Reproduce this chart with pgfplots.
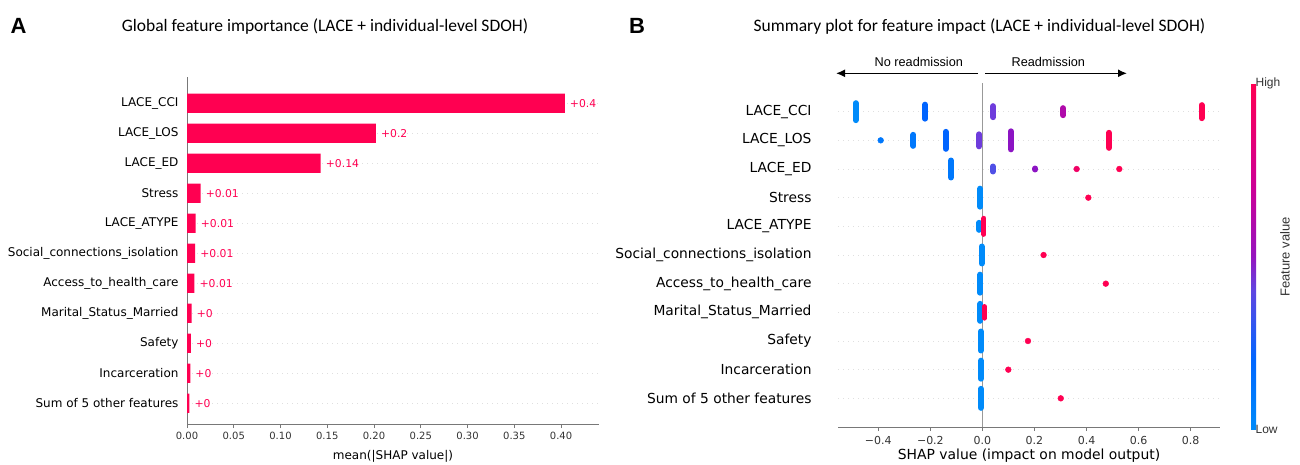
\documentclass[border=0pt]{standalone}
\usepackage{fontspec}
\setmainfont{DejaVu Sans}
\newfontfamily\libsans{Liberation Sans}
\newfontfamily\carlito{Carlito}
\usepackage{pgfplots}
\usepackage{pgfplotstable}
\pgfplotsset{compat=1.18}
\usetikzlibrary{arrows.meta}

\definecolor{shapred}{RGB}{255,0,81}
\definecolor{cA}{RGB}{0,139,250}
\definecolor{cA2}{RGB}{0,120,252}
\definecolor{cB}{RGB}{0,100,255}
\definecolor{cF}{RGB}{80,80,230}
\definecolor{cC}{RGB}{110,60,220}
\definecolor{cE}{RGB}{140,20,195}
\definecolor{cD}{RGB}{175,10,170}
\definecolor{cR2}{RGB}{240,0,100}
\definecolor{cR}{RGB}{255,0,82}
\definecolor{spine}{RGB}{120,120,120}
\definecolor{ticktext}{RGB}{51,51,51}

\pgfplotstableread{
y x lab
10 0.404 +0.4
9 0.202 +0.2
8 0.143 +0.14
7 0.0145 +0.01
6 0.0093 +0.01
5 0.0087 +0.01
4 0.0080 +0.01
3 0.0049 +0
2 0.0042 +0
1 0.0035 +0
0 0.0025 +0
}\barsA

\pgfplotsset{
  blob/.style={line width=6pt, line cap=round, mark=none, forget plot},
  dot/.style={only marks, mark=*, mark size=2.9pt, forget plot},
}

\begin{document}
\begin{tikzpicture}
\path[use as bounding box] (0pt,0pt) rectangle (1300pt,464pt);

% ---------------- Panel A ----------------
\begin{axis}[
  at={(187pt,40pt)}, anchor=south west, scale only axis,
  width=412pt, height=347.3pt,
  xmin=0, xmax=0.4406, ymin=-0.69, ymax=10.887,
  axis x line*=bottom, axis y line*=left,
  axis line style={-, spine, line width=0.8pt},
  xtick={0,0.05,0.1,0.15,0.2,0.25,0.3,0.35,0.4},
  xticklabels={0.00,0.05,0.10,0.15,0.20,0.25,0.30,0.35,0.40},
  ytick={0,1,2,3,4,5,6,7,8,9,10},
  yticklabels={Sum of 5 other features,Incarceration,Safety,Marital\_Status\_Married,Access\_to\_health\_care,Social\_connections\_isolation,LACE\_ATYPE,Stress,LACE\_ED,LACE\_LOS,LACE\_CCI},
  tick align=outside, major tick length=4pt,
  xtick style={spine, line width=0.8pt},
  ytick style={draw=none},
  ymajorgrids, major grid style={gray!25, line width=0.5pt, dash pattern=on 1pt off 4pt},
  xticklabel style={font=\fontsize{10}{12}\selectfont, text=ticktext, yshift=-1pt},
  yticklabel style={font=\fontsize{12}{14}\selectfont, text=black, xshift=-1pt},
  xlabel={mean(|SHAP value|)},
  xlabel style={font=\fontsize{12}{14}\selectfont, text=black, yshift=-3pt},
]
\addplot[xbar, bar width=19.3pt, fill=shapred, draw=none,
  point meta=explicit symbolic,
  nodes near coords,
  nodes near coords style={font=\fontsize{10.8}{12}\selectfont, text=shapred, anchor=west, inner sep=0pt, xshift=5pt}]
  table[x=x, y=y, meta=lab]{\barsA};
\end{axis}

% ---------------- Panel B ----------------
\pgfplotsset{colormap={shap}{rgb255(0pt)=(0,139,250); rgb255(20pt)=(0,102,255); rgb255(40pt)=(95,70,225); rgb255(50pt)=(150,20,190); rgb255(70pt)=(205,0,150); rgb255(100pt)=(255,0,82)}}
\begin{axis}[
  at={(838pt,37pt)}, anchor=south west, scale only axis,
  width=382pt, height=344pt,
  xmin=-0.555, xmax=0.913, ymin=-1, ymax=11,
  axis x line*=bottom, axis y line*=left,
  x axis line style={-, spine, line width=1pt},
  y axis line style={draw=none},
  xtick={-0.4,-0.2,0,0.2,0.4,0.6,0.8},
  xticklabels={−0.4,−0.2,0.0,0.2,0.4,0.6,0.8},
  ytick={0,1,2,3,4,5,6,7,8,9,10},
  yticklabels={Sum of 5 other features,Incarceration,Safety,Marital\_Status\_Married,Access\_to\_health\_care,Social\_connections\_isolation,LACE\_ATYPE,Stress,LACE\_ED,LACE\_LOS,LACE\_CCI},
  tick align=outside, major tick length=4pt,
  xtick style={spine, line width=0.8pt},
  ytick style={draw=none},
  ymajorgrids, major grid style={gray!25, line width=0.5pt, dash pattern=on 1pt off 4pt},
  xticklabel style={font=\fontsize{11}{13}\selectfont, text=ticktext, yshift=-2pt},
  yticklabel style={font=\fontsize{13.8}{16}\selectfont, text=black, xshift=-19pt},
  xlabel={SHAP value (impact on model output)},
  xlabel style={font=\fontsize{13.9}{16}\selectfont, text=black, yshift=2.5pt},
  colormap name=shap, point meta min=0, point meta max=1,
  colorbar,
  colorbar style={scale only axis, at={(parent axis.north east)}, anchor=north west, xshift=22.5pt,
    width=5pt, height=346pt, ytick={0,1}, yticklabels={Low,High}, yticklabel pos=right,
    yticklabel style={font=\libsans\fontsize{12}{14}\selectfont, text=ticktext, anchor=west, xshift=-4pt},
    major tick length=0pt, axis line style={draw=none}, ytick style={draw=none}},
]
\addplot[color={rgb,255:red,153;green,153;blue,153}, line width=1.2pt, forget plot] coordinates {(0,-1) (0,11)};
% LACE_CCI (10)
\addplot[blob, cA] coordinates {(-0.487,9.704) (-0.487,10.296)};
\addplot[blob, cB] coordinates {(-0.2205,9.756) (-0.2205,10.244)};
\addplot[blob, cC] coordinates {(0.041,9.808) (0.041,10.192)};
\addplot[blob, cD] coordinates {(0.310,9.878) (0.310,10.122)};
\addplot[blob, cR] coordinates {(0.842,9.773) (0.842,10.227)};
% LACE_LOS (9)
\addplot[dot, cA2] coordinates {(-0.391,9)};
\addplot[blob, cA2] coordinates {(-0.265,8.808) (-0.265,9.192)};
\addplot[blob, cB] coordinates {(-0.141,8.704) (-0.141,9.296)};
\addplot[blob, cC] coordinates {(-0.013,8.791) (-0.013,9.209)};
\addplot[blob, cE] coordinates {(0.109,8.686) (0.109,9.314)};
\addplot[blob, cR] coordinates {(0.486,8.738) (0.486,9.262)};
% LACE_ED (8)
\addplot[blob, cA2] coordinates {(-0.121,7.704) (-0.121,8.296)};
\addplot[blob, cF] coordinates {(0.040,7.913) (0.040,8.087)};
\addplot[blob, cE] coordinates {(0.203,7.983) (0.203,8.017)};
\addplot[dot, cR2] coordinates {(0.362,8)};
\addplot[dot, cR] coordinates {(0.526,8)};
% Stress (7)
\addplot[blob, cA] coordinates {(-0.009,6.686) (-0.009,7.314)};
\addplot[dot, cR] coordinates {(0.407,7)};
% LACE_ATYPE (6)
\addplot[blob, cA] coordinates {(-0.013,5.878) (-0.013,6.122)};
\addplot[blob, cR, line width=5pt] coordinates {(0.006,5.72) (0.006,6.28)};
% Social (5)
\addplot[blob, cA] coordinates {(-0.003,4.704) (-0.003,5.296)};
\addplot[dot, cR] coordinates {(0.235,5)};
% Access (4)
\addplot[blob, cA] coordinates {(-0.009,3.686) (-0.009,4.314)};
\addplot[dot, cR] coordinates {(0.474,4)};
% Marital (3)
\addplot[blob, cA] coordinates {(-0.008,2.704) (-0.008,3.296)};
\addplot[blob, cR, line width=4.5pt] coordinates {(0.007,2.79) (0.007,3.21)};
% Safety (2)
\addplot[blob, cA] coordinates {(-0.006,1.669) (-0.006,2.331)};
\addplot[dot, cR] coordinates {(0.175,2)};
% Incarceration (1)
\addplot[blob, cA] coordinates {(-0.006,0.686) (-0.006,1.314)};
\addplot[dot, cR] coordinates {(0.0995,1)};
% Sum (0)
\addplot[blob, cA] coordinates {(-0.006,-0.331) (-0.006,0.331)};
\addplot[dot, cR] coordinates {(0.301,0)};
\end{axis}

% ---------------- Annotations ----------------
\node[font=\libsans\bfseries\fontsize{22}{24}\selectfont] at (18.5pt,438.3pt) {A};
\node[font=\libsans\bfseries\fontsize{22}{24}\selectfont] at (637pt,438.3pt) {B};
\node[font=\carlito\fontsize{17.5}{20}\selectfont] at (325pt,437.3pt) {Global feature importance (LACE + individual-level SDOH)};
\node[font=\carlito\fontsize{17.5}{20}\selectfont] at (979.5pt,437.3pt) {Summary plot for feature impact (LACE + individual-level SDOH)};
\draw[-{Latex[length=9pt,width=8pt]}, line width=1.4pt] (978pt,390.7pt) -- (836pt,390.7pt);
\draw[-{Latex[length=9pt,width=8pt]}, line width=1.4pt] (985pt,390.7pt) -- (1127pt,390.7pt);
\node[font=\libsans\fontsize{12.7}{14}\selectfont] at (918.8pt,401.8pt) {No readmission};
\node[font=\libsans\fontsize{12.7}{14}\selectfont] at (1048.3pt,401.8pt) {Readmission};
\node[font=\libsans\fontsize{13}{15}\selectfont, rotate=90, text=ticktext] at (1285pt,207pt) {Feature value};
\end{tikzpicture}
\end{document}
